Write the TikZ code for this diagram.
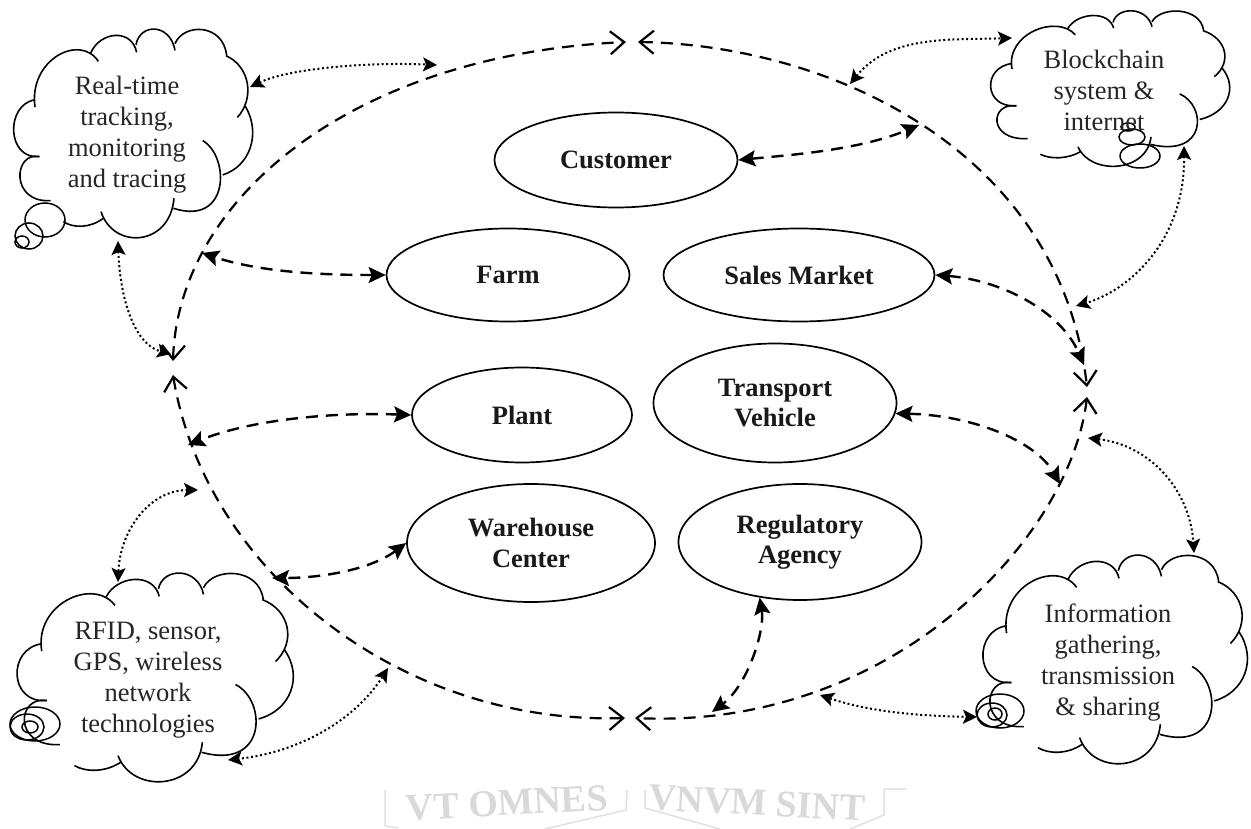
\documentclass[tikz,border=0pt]{standalone}
\usepackage{fontspec}
\setmainfont{Liberation Serif}
\usetikzlibrary{arrows.meta}
\usetikzlibrary{shapes.geometric}

\newcommand{\cloudlobes}[4]{
	\begin{scope}[shift={(#1,#2)},x={#3pt/732},y={-#4pt/635}]
	\begin{scope}[shift={(-33,-25)}]
	\draw[lobe] (105,262) .. controls (85,120) and (240,40) .. (295,125);
	\draw[lobe] (272,100) .. controls (300,35) and (395,25) .. (410,98);
	\draw[lobe] (408,75) .. controls (420,10) and (510,10) .. (525,92);
	\draw[lobe] (525,72) .. controls (550,10) and (670,10) .. (680,108);
	\draw[lobe] (678,108) .. controls (750,140) and (765,235) .. (712,293);
	\draw[lobe] (735,258) .. controls (785,340) and (750,440) .. (668,465);
	\draw[lobe] (608,362) .. controls (690,410) and (690,620) .. (520,565);
	\draw[lobe] (522,535) .. controls (510,680) and (340,690) .. (303,575);
	\draw[lobe] (310,595) .. controls (270,625) and (220,625) .. (190,605);
	\draw[lobe] (118,410) .. controls (40,395) and (30,550) .. (152,542);
	\draw[lobe] (105,240) .. controls (15,255) and (20,420) .. (118,410);
	\end{scope}
	\end{scope}
}

\begin{document}
\begin{tikzpicture}[x=1pt,y=-1pt,>={Stealth[length=17pt,width=16pt,inset=3pt]},
	main node/.style={ellipse, draw, line width=1.7pt, inner sep=0pt, font=\fontsize{26.5}{30.5}\selectfont\bfseries, align=center, text=black!90},
	cloud text/.style={font=\fontsize{26.5}{31}\selectfont, align=center, text=black!85},
	lobe/.style={line width=1.6pt},
	bubble/.style={ellipse, draw, line width=1.5pt, inner sep=0pt},
	ring/.style={line width=2.2pt, dash pattern=on 12pt off 8pt, {Straight Barb[length=14pt,width=23pt]}-{Straight Barb[length=14pt,width=23pt]}},
	link/.style={<->, line width=2.4pt, dash pattern=on 12pt off 8pt},
	wire/.style={<->, >={Stealth[length=14pt,width=14pt,inset=3pt]}, line width=2pt, dash pattern=on 2pt off 2.6pt},
	seal/.style={draw=black!12, line width=1.5pt},
	seal text/.style={font=\fontsize{38}{38}\selectfont\bfseries, text=black!15, inner sep=0pt}]
	
	\useasboundingbox (0,0) rectangle (1251,829);
	
	\node[main node, minimum width=243pt, minimum height=95pt] (customer) at (616,160) {Customer};
	\node[main node, minimum width=243pt, minimum height=93pt] (farm) at (508,275) {Farm};
	\node[main node, minimum width=271pt, minimum height=93pt] (market) at (799,275) {Sales Market};
	\node[main node, minimum width=220pt, minimum height=95pt] (plant) at (522,415) {Plant};
	\node[main node, minimum width=243pt, minimum height=119pt] (vehicle) at (775,403) {Transport\\Vehicle};
	\node[main node, minimum width=248pt, minimum height=118pt] (warehouse) at (531,543) {Warehouse\\Center};
	\node[main node, minimum width=243pt, minimum height=116pt] (agency) at (800,542) {Regulatory\\Agency};
	
	\cloudlobes{11}{28}{244}{212}
	\cloudlobes{988}{10}{244}{158}
	\cloudlobes{14}{572}{282}{212}
	\cloudlobes{980}{554}{270}{212}
	
	\node[bubble, minimum width=40pt, minimum height=34pt] (puffa) at (45,220) {};
	\node[bubble, minimum width=28pt, minimum height=26pt] (puffb) at (29,236) {};
	\node[bubble, minimum width=14pt, minimum height=12pt] (puffc) at (22,242) {};
	\node[bubble, minimum width=40pt, minimum height=24pt] (puffd) at (1140,156) {};
	\node[bubble, minimum width=26pt, minimum height=16pt] (puffe) at (1132,137) {};
	\node[bubble, minimum width=14pt, minimum height=8pt] (pufff) at (1128,127) {};
	\node[bubble, minimum width=50pt, minimum height=34pt] (puffg) at (35,724) {};
	\node[bubble, minimum width=34pt, minimum height=26pt] (puffh) at (27,727) {};
	\node[bubble, minimum width=16pt, minimum height=12pt] (puffi) at (30,727) {};
	\node[bubble, minimum width=48pt, minimum height=34pt] (puffj) at (1000,711) {};
	\node[bubble, minimum width=30pt, minimum height=24pt] (puffk) at (992,715) {};
	\node[bubble, minimum width=14pt, minimum height=12pt] (puffl) at (995,714) {};
	
	\node[cloud text] (tracking) at (127,135) {Real-time\\tracking,\\monitoring\\and tracing};
	\node[cloud text] (blockchain) at (1104,90) {Blockchain\\system \&\\internet};
	\node[cloud text] (rfid) at (148,680) {RFID, sensor,\\GPS, wireless\\network\\technologies};
	\node[cloud text] (gathering) at (1108,663) {Information\\gathering,\\transmission\\\& sharing};
	
	\coordinate (ringnl) at (626,42);
	\coordinate (ringnr) at (638,42);
	\coordinate (ringwt) at (173,361);
	\coordinate (ringwb) at (173,375);
	\coordinate (ringet) at (1087,387);
	\coordinate (ringeb) at (1087,397);
	\coordinate (ringsl) at (625,718);
	\coordinate (ringsr) at (635,718);
	
	\draw[ring] (ringwt) .. controls (178,200) and (350,55) .. (ringnl);
	\draw[ring] (ringnr) .. controls (830,45) and (1060,150) .. (ringet);
	\draw[ring] (ringeb) .. controls (1070,540) and (890,730) .. (ringsr);
	\draw[ring] (ringwb) .. controls (205,570) and (400,725) .. (ringsl);
	
	\coordinate (endfarm) at (202,253);
	\coordinate (endcustomer) at (919,125);
	\coordinate (endmarket) at (1084,365);
	\coordinate (endplant) at (188,445);
	\coordinate (endvehicle) at (1060,484);
	\coordinate (endwarehouse) at (272,578);
	\coordinate (endagency) at (712,712);
	
	\draw[link] (customer.east) .. controls (790,155) and (860,150) .. (endcustomer);
	\draw[link] (farm.west) .. controls (320,275) and (260,272) .. (endfarm);
	\draw[link] (market.east) .. controls (1000,280) and (1060,310) .. (endmarket);
	\draw[link] (plant.west) .. controls (330,412) and (250,420) .. (endplant);
	\draw[link] (vehicle.-5) .. controls (970,415) and (1035,440) .. (endvehicle);
	\draw[link] (warehouse.west) .. controls (370,570) and (320,578) .. (endwarehouse);
	\draw[link] (agency.234) .. controls (765,630) and (748,685) .. (endagency);
	
	\coordinate (tracktop) at (437,65);
	\coordinate (trackend) at (250,87);
	\coordinate (trackdown) at (118,241);
	\coordinate (trackleft) at (171,354);
	\coordinate (chainend) at (1012,38);
	\coordinate (chaintop) at (850,84);
	\coordinate (chaindown) at (1184,146);
	\coordinate (chainright) at (1076,306);
	\coordinate (rfidring) at (198,490);
	\coordinate (rfidtop) at (118,582);
	\coordinate (rfidlow) at (388,668);
	\coordinate (rfidend) at (228,760);
	\coordinate (gatherring) at (1088,438);
	\coordinate (gathertop) at (1194,553);
	\coordinate (gatherlow) at (820,695);
	\coordinate (gatherend) at (977,717);
	
	\draw[wire] (trackend) .. controls (290,68) and (370,62) .. (tracktop);
	\draw[wire] (trackdown) .. controls (120,300) and (135,345) .. (trackleft);
	\draw[wire] (chaintop) .. controls (890,35) and (950,40) .. (chainend);
	\draw[wire] (chaindown) .. controls (1185,240) and (1130,290) .. (chainright);
	\draw[wire] (rfidring) .. controls (150,490) and (120,530) .. (rfidtop);
	\draw[wire] (rfidlow) .. controls (355,720) and (300,752) .. (rfidend);
	\draw[wire] (gatherring) .. controls (1150,445) and (1190,490) .. (gathertop);
	\draw[wire] (gatherlow) .. controls (870,712) and (920,716) .. (gatherend);
	
	\node[seal text, rotate=3] (sealleft) at (507,803) {VT OMNES};
	\node[seal text, rotate=-3] (sealright) at (757,803) {VNVM SINT};
	\draw[seal] (906,789) -- (884,789) -- (884,815) -- (850,829);
	\draw[seal] (645,790) -- (645,808) -- (720,829);
	\draw[seal] (627,790) -- (626,810) -- (545,829);
	\draw[seal] (385,790) -- (385,826) -- (398,828);
	
\end{tikzpicture}
\end{document}
